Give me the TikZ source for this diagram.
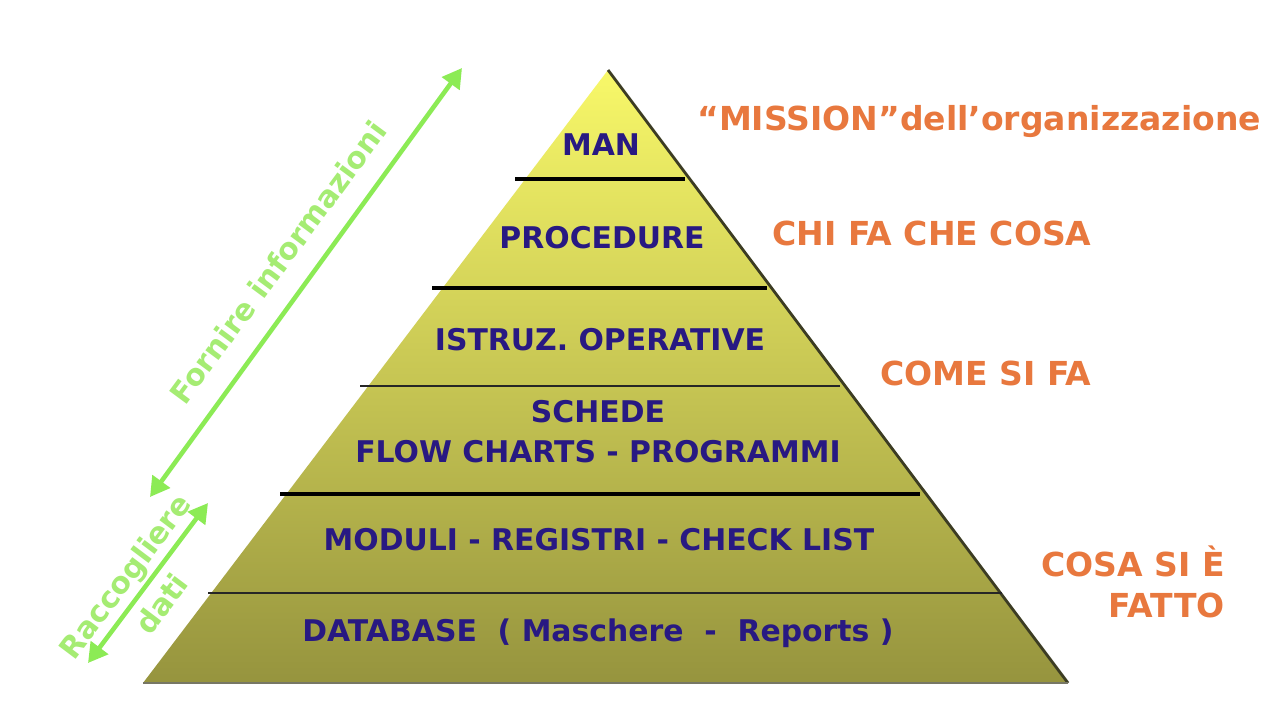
\documentclass[tikz,border=0pt]{standalone}
\usepackage{fontspec}
\setmainfont{DejaVu Sans}
\usepackage{xcolor}
\usetikzlibrary{arrows.meta}
\definecolor{navy}{RGB}{40,25,130}
\definecolor{tangerine}{RGB}{232,120,62}
\definecolor{arrowgreen}{RGB}{140,235,85}
\definecolor{textgreen}{RGB}{165,236,115}
\definecolor{pyrtop}{RGB}{248,248,105}
\definecolor{pyrmid}{RGB}{212,212,105}
\definecolor{pyrbot}{RGB}{150,148,62}
\definecolor{rimdark}{RGB}{60,60,35}
\tikzset{tiertext/.style={font=\bfseries\fontsize{17}{22.7}\selectfont, text=navy, inner sep=0pt},
 sidetext/.style={font=\bfseries\fontsize{18.8}{23}\selectfont, text=tangerine, inner sep=0pt},
 greentext/.style={font=\bfseries\fontsize{17}{26}\selectfont, text=textgreen, inner sep=0pt},
 thickbar/.style={line width=2.8pt, black},
 thinbar/.style={line width=1pt, black!85},
 flow/.style={draw=arrowgreen, line width=2.6pt, <->, >={Triangle[length=11pt,width=12pt]}},
 }

\begin{document}
\begin{tikzpicture}[x=0.02cm, y=-0.02cm]
        \useasboundingbox (0,0) rectangle (1280,720);
        \fill[white] (0,0) rectangle (1280,720);
        % pyramid
        \coordinate (apex) at (608,70);
        \coordinate (baseL) at (143,683);
        \coordinate (baseR) at (1068,683);
        \shade[top color=pyrtop, middle color=pyrmid, bottom color=pyrbot] (apex) -- (baseL) -- (baseR) -- cycle;
        \draw[rimdark, line width=1.6pt] (apex) -- (baseR);
        \draw[rimdark!70, line width=1.6pt] (baseL) -- (baseR);
        \draw[thickbar] (515,179) -- (685,179);
        \draw[thickbar] (432,288) -- (767,288);
        \draw[thinbar] (360,386) -- (840,386);
        \draw[thickbar] (280,494) -- (920,494);
        \draw[thinbar] (208,593) -- (1002,593);
        \node[tiertext] (man) at (601,145) {MAN};
        \node[tiertext] (proc) at (602,238) {PROCEDURE};
        \node[tiertext] (istr) at (600,340) {ISTRUZ. OPERATIVE};
        \node[tiertext, align=center] (sched) at (598,432) {SCHEDE\\FLOW CHARTS - PROGRAMMI};
        \node[tiertext] (modu) at (599,540) {MODULI - REGISTRI - CHECK LIST};
        \node[tiertext] (dbase) at (598,633) {DATABASE~ ( Maschere~ -~ Reports )};
        % labels on the right
        \node[sidetext, anchor=west] (mission) at (697,122) {“MISSION”dell’organizzazione};
        \node[sidetext, anchor=west] (who) at (772,233) {CHI FA CHE COSA};
        \node[sidetext, anchor=west] (how) at (880,373) {COME SI FA};
        \node[sidetext, anchor=east, align=right] (done) at (1225,582) {COSA SI È\\FATTO};
        % green arrows
        \coordinate (infoLo) at (150,497);
        \coordinate (infoHi) at (462,68);
        \draw[flow] (infoLo) -- (infoHi);
        \node[greentext, rotate=53.5] (info) at (278,262) {Fornire informazioni};
        \coordinate (dataLo) at (88,663);
        \coordinate (dataHi) at (208,503);
        \draw[flow] (dataLo) -- (dataHi);
        \node[greentext, rotate=53, align=center] (data) at (143,590) {Raccogliere\\dati};
    \end{tikzpicture}
\end{document}
